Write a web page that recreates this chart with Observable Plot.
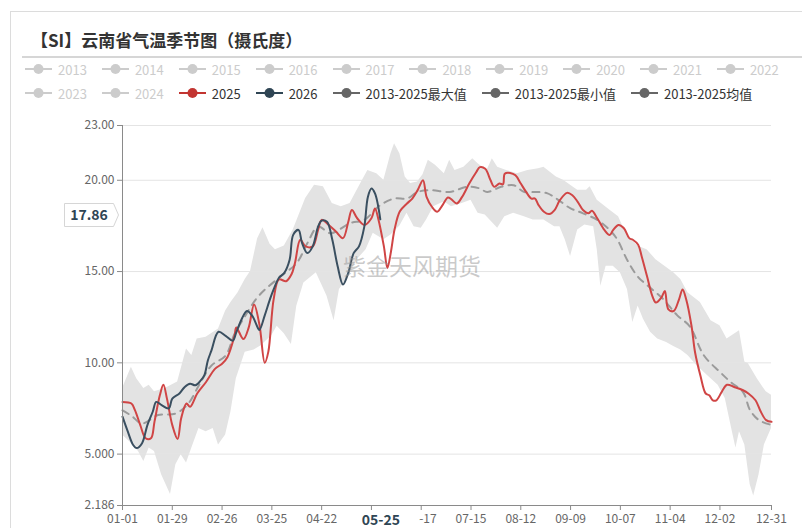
<!DOCTYPE html>
<html><head><meta charset="utf-8">
<script src="https://cdn.jsdelivr.net/npm/d3@7"></script>
<script src="https://cdn.jsdelivr.net/npm/@observablehq/plot@0.6"></script>
<style>
body{margin:0;background:#fff;font-family:"Microsoft YaHei","Noto Sans CJK SC","Noto Sans",sans-serif;}
#wrap{position:relative;width:802px;height:528px;overflow:hidden;background:#fff;}
#frame{position:absolute;left:10px;top:11px;width:900px;height:600px;border:1px solid #dcdcdc;}
#title{position:absolute;left:31px;top:28px;font-size:17px;font-weight:bold;color:#333;line-height:24px;white-space:nowrap;}
#hr{position:absolute;left:22px;top:56px;width:790px;height:2px;background:#d6d6d6;}
.row{position:absolute;left:25px;display:flex;align-items:center;height:18px;font-size:13px;white-space:nowrap;}
.item{display:flex;align-items:center;margin-right:15px;}
.item svg{margin-right:6px;}
#chart{position:absolute;left:0;top:108px;}
#wm{position:absolute;left:343px;top:248px;font-size:23px;color:rgba(150,150,150,0.5);white-space:nowrap;}
.ptr{position:absolute;font-weight:bold;font-size:14px;color:#2f4554;background:#fff;text-align:center;white-space:nowrap;}
</style>
</head><body>
<div id="wrap">
  <div id="frame"></div>
  <div id="title">【SI】云南省气温季节图（摄氏度）</div>
  <div id="hr"></div>
  <div class="row" id="row1" style="top:60px"></div>
  <div class="row" id="row2" style="top:84px"></div>
  <div id="chart"></div>
  <div id="wm">紫金天风期货</div>
</div>
<script>
// day index: 0 = 01-01 on a leap-year (366 day) axis
const days2025 = [0,5,7,10,13,16,18,21,23,25,28,31,33,36,38,42,47,52,56,59,63,64,68,71,74,77,80,82,85,88,92,95,97,100,103,107,110,112,116,120,124,127,129,132,136,140,142,144,147,149,151,153,156,160,163,166,169,171,174,177,180,183,185,188,191,195,199,201,204,207,209,212,214,215,218,221,224,227,230,232,234,237,240,243,246,250,253,256,259,262,264,267,271,274,276,279,282,285,287,290,292,295,298,300,303,305,307,310,313,315,317,320,322,325,328,330,332,334,337,340,344,349,352,356,359,362,365];
const vals2025 = [7.86,7.77,7.41,6.59,5.87,5.87,6.78,8.22,8.8,8.04,6.59,5.83,6.96,7.77,7.59,8.32,8.95,9.67,9.95,10.31,11.48,11.94,11.3,11.94,13.2,12.1,10.0,10.6,13.48,14.57,14.47,14.84,15.47,16.74,16.38,16.38,17.28,17.83,17.55,17.19,16.83,17.73,18.37,17.92,17.55,17.92,18.46,17.83,16.38,15.2,16.1,17.3,18.3,18.73,19.0,19.46,20.0,19.09,18.55,18.28,18.64,19.06,18.95,18.73,19.09,19.82,20.45,20.72,20.63,20.0,19.64,19.82,19.78,20.36,20.4,20.27,19.82,19.36,19.0,19.0,18.64,18.28,18.15,18.37,18.91,19.31,19.18,18.82,18.37,18.19,18.33,17.92,17.28,17.0,17.28,17.55,17.37,16.83,16.74,16.47,15.83,14.74,13.66,13.3,13.57,13.93,12.93,12.84,13.48,14.02,13.48,12.03,10.58,9.31,8.32,8.22,7.95,7.95,8.41,8.8,8.68,8.5,8.32,7.95,7.32,6.86,6.77];

const days2026 = [0,3,6,8,11,14,17,19,22,26,28,32,35,38,41,44,46,48,50,54,58,62,64,67,70,73,76,77,80,83,85,88,91,94,96,99,101,104,107,110,112,115,118,121,124,127,130,133,136,138,140,142,145];
const vals2026 = [7.05,6.23,5.5,5.33,5.6,6.59,7.32,7.86,7.68,7.5,8.04,8.32,8.68,8.86,8.77,9.04,9.31,10.13,10.67,11.7,11.48,11.21,11.67,12.39,12.84,12.57,11.94,11.8,12.6,13.5,14.02,14.66,14.93,15.65,17.01,17.28,16.56,16.01,16.38,17.46,17.79,17.73,16.74,15.29,14.29,14.93,16.01,16.38,17.46,19.09,19.55,19.28,17.86];

const daysMean = [0,5,11,20,30,37,43,50,58,63,69,75,80,89,98,104,110,117,128,136,145,153,160,166,173,184,194,201,205,213,220,226,233,239,244,252,259,267,273,278,284,290,297,304,312,319,327,336,342,349,353,358,365];
const valsMean = [7.4,7.1,6.68,7.14,7.23,7.77,8.77,9.85,10.4,11.58,12.57,13.48,14.0,14.74,15.47,16.56,17.46,17.1,17.65,17.83,18.64,19.0,19.0,19.36,19.46,19.36,19.64,19.55,19.36,19.64,19.73,19.36,19.36,19.28,19.0,18.46,18.19,17.83,17.37,16.8,15.6,14.7,14.1,13.5,12.6,12.0,10.4,9.5,8.95,8.4,7.4,6.86,6.6];

const daysMax = [0,5,8,12,15,18,24,31,36,39,42,47,54,58,61,65,69,72,76,79,83,86,91,96,103,108,113,118,123,128,134,138,143,147,151,153,156,159,162,166,169,172,176,181,184,187,192,197,200,205,208,211,216,222,228,234,237,244,248,256,261,263,267,274,279,284,290,295,300,305,310,314,318,325,331,336,340,347,350,352,357,362,365];
const valsMax = [8.6,9.76,9.13,8.59,8.77,8.41,8.59,8.95,10.76,10.4,11.3,11.4,11.85,12.84,13.3,13.84,14.57,15.0,16.8,17.4,16.5,16.2,16.4,17.28,19.0,19.73,19.64,18.73,18.55,18.73,19.82,20.54,20.36,20.0,21.45,22.0,21.45,20.18,19.82,19.9,20.3,21.09,20.82,20.36,21.09,20.54,20.72,21.18,20.9,20.54,21.18,20.72,20.54,20.36,20.54,20.63,20.72,20.18,20.0,19.46,19.46,19.64,18.91,18.37,18.0,16.92,16.38,16.2,15.65,15.29,14.93,14.57,13.84,13.3,12.3,12.03,11.3,11.76,10.04,9.95,9.13,8.41,8.22];

const daysMin = [0,5,9,12,15,18,22,27,30,33,36,39,43,47,51,54,58,61,64,69,74,78,84,87,91,95,98,102,109,115,119,122,126,132,137,141,147,151,156,160,164,168,171,175,181,185,191,196,200,204,211,215,220,226,231,237,243,246,249,252,256,260,265,267,269,272,276,280,284,287,290,293,297,301,306,310,314,318,323,329,335,339,343,345,347,350,353,355,358,361,365];
const valsMin = [6.05,5.6,5.14,4.6,5.33,5.14,3.87,2.79,4.42,4.96,4.51,5.33,6.41,6.23,6.41,5.5,6.05,7.32,9.13,10.58,10.7,10.94,11.5,12.0,11.6,11.0,13.1,14.38,14.93,13.66,12.3,14.02,14.57,15.65,16.2,17.1,16.74,17.0,17.5,18.19,17.46,17.37,17.83,18.55,18.82,18.55,18.73,18.91,18.19,18.1,17.37,18.0,18.19,18.0,17.83,17.83,17.46,17.46,16.74,15.83,17.28,17.55,17.46,16.2,14.2,15.29,15.29,14.93,14.02,12.21,13.11,12.39,11.67,11.3,11.12,10.9,10.7,10.4,9.85,9.31,8.77,8.04,6.23,5.33,6.23,5.5,3.33,2.7,3.87,5.5,6.41];

const xTickLabels = ["01-01","01-29","02-26","03-25","04-22","05-20","06-17","07-15","08-12","09-09","10-07","11-04","12-02","12-31"];
const yTicks = [2.186,5,10,15,20,23];
const gridValues = [5,10,15,20,23];
const pointerDate = "05-25";
const pointerValue = 17.86;

const legendNames = ["2013","2014","2015","2016","2017","2018","2019","2020","2021","2022","2023","2024","2025","2026","2013-2025最大值","2013-2025最小值","2013-2025均值"];
const legendColors = ["#ccc","#ccc","#ccc","#ccc","#ccc","#ccc","#ccc","#ccc","#ccc","#ccc","#ccc","#ccc","#c23531","#2f4554","#666","#666","#666"];
const legendTextColors = ["#ccc","#ccc","#ccc","#ccc","#ccc","#ccc","#ccc","#ccc","#ccc","#ccc","#ccc","#ccc","#333","#333","#333","#333","#333"];

const t0 = Date.UTC(2024,0,1);
const mdToDay = s => { const [m,d] = s.split("-").map(Number); return Math.round((Date.UTC(2024,m-1,d)-t0)/864e5); };
const dayToMd = d => d3.utcFormat("%m-%d")(new Date(t0 + d*864e5));
const rows = (ds, vs) => ds.map((d,i)=>({day:d, v:vs[i]}));
const yMin = yTicks[0], yMax = yTicks[yTicks.length-1];

// legend
legendNames.forEach((n,i)=>{
  const row = document.getElementById(i < 10 ? "row1" : "row2");
  const it = document.createElement("div");
  it.className = "item";
  const c = legendColors[i];
  it.innerHTML = `<svg width="27" height="12"><line x1="0" x2="27" y1="6" y2="6" stroke="${c}" stroke-width="2"/><circle cx="13.5" cy="6" r="5" fill="${c}"/></svg><span style="color:${legendTextColors[i]}">${n}</span>`;
  row.appendChild(it);
});

const chart = Plot.plot({
  width: 802, height: 420,
  marginLeft: 122, marginRight: 31, marginTop: 17, marginBottom: 23,
  style: {fontSize: "12px", fontFamily: '"Microsoft YaHei","Noto Sans CJK SC","Noto Sans",sans-serif', background: "transparent", color: "#666"},
  x: {domain: [0, 365]},
  y: {domain: [yMin, yMax]},
  marks: [
    Plot.areaY(rows(daysMax, valsMax), {x: "day", y1: () => yMin, y2: "v", fill: "#e3e3e3"}),
    Plot.areaY(rows(daysMin, valsMin), {x: "day", y1: () => yMin, y2: "v", fill: "#ffffff"}),
    Plot.ruleY(gridValues, {stroke: "#e4e4e4", strokeWidth: 1}),
    Plot.line(rows(daysMean, valsMean), {x: "day", y: "v", stroke: "#9b9b9b", strokeWidth: 2, strokeDasharray: "7,6", curve: "catmull-rom"}),
    Plot.line(rows(days2025, vals2025), {x: "day", y: "v", stroke: "#d04545", strokeWidth: 2, curve: "catmull-rom"}),
    Plot.line(rows(days2026, vals2026), {x: "day", y: "v", stroke: "#3a4f60", strokeWidth: 2, curve: "catmull-rom"}),
    Plot.ruleX([0], {stroke: "#8a8a8a"}),
    Plot.ruleY([yMin], {stroke: "#8a8a8a"}),
    Plot.axisY({ticks: yTicks, tickFormat: d => d.toPrecision(4), tickSize: 5, tickPadding: 3, stroke: "#8a8a8a", fill: "#666", label: null}),
    Plot.axisX({ticks: xTickLabels.map(mdToDay), tickFormat: dayToMd, tickSize: 5, tickPadding: 4, stroke: "#8a8a8a", fill: "#666", label: null})
  ]
});
document.getElementById("chart").appendChild(chart);

// axis pointer labels
const sx = chart.scale("x"), sy = chart.scale("y");
const chartTop = 108;
const px = sx.apply(mdToDay(pointerDate));
const py = sy.apply(pointerValue) + chartTop;
const wrap = document.getElementById("wrap");

const xl = document.createElement("div");
xl.className = "ptr";
xl.style.left = (px - 37) + "px"; xl.style.top = (chartTop + 397 + 5) + "px";
xl.style.width = "76px"; xl.style.lineHeight = "18px"; xl.style.height = "18px";
xl.textContent = pointerDate;
wrap.appendChild(xl);

const yl = document.createElement("div");
yl.style.position = "absolute";
yl.style.left = "64px"; yl.style.top = (py - 16) + "px";
yl.innerHTML = `<svg width="56" height="24"><path d="M0.5,0.5H49.5L54.5,12L49.5,23.5H0.5Z" fill="#fff" stroke="#d6d6d6"/><text x="25" y="17" text-anchor="middle" font-size="14" font-weight="bold" fill="#2f4554" font-family='"Microsoft YaHei","Noto Sans CJK SC",sans-serif'>${pointerValue.toFixed(2)}</text></svg>`;
wrap.appendChild(yl);
</script>
</body></html>
